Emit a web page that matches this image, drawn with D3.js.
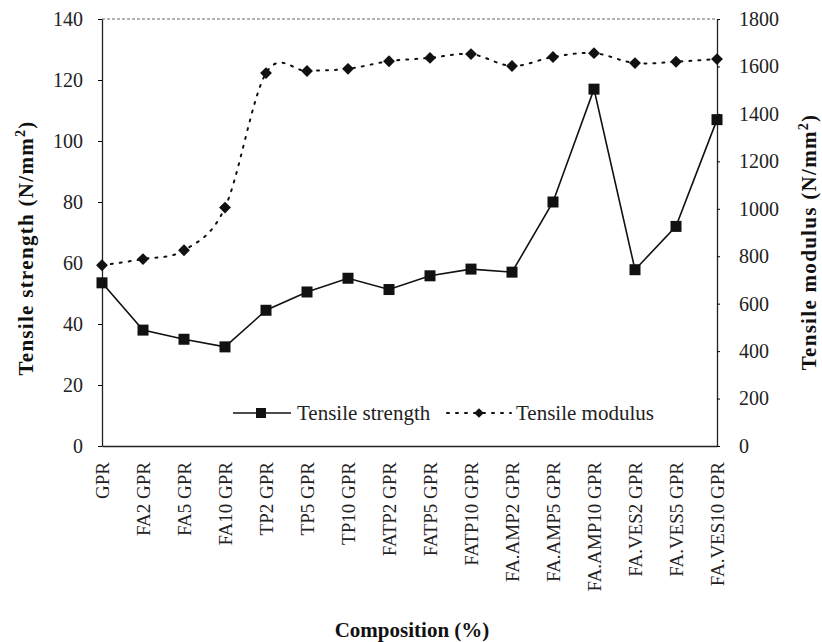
<!DOCTYPE html>
<meta charset="utf-8">
<html>
<head>
<style>
  body { margin:0; background:#fff; }
  svg { display:block; }
  .tick text { font-family: "Liberation Serif", serif; }
</style>
<script src="https://d3js.org/d3.v7.min.js"></script>
</head>
<body>
<svg width="822" height="642"></svg>
<script>
// values
var categories = ["GPR", "FA2 GPR", "FA5 GPR", "FA10 GPR", "TP2 GPR", "TP5 GPR", "TP10 GPR",
  "FATP2 GPR", "FATP5 GPR", "FATP10 GPR", "FA.AMP2 GPR", "FA.AMP5 GPR", "FA.AMP10 GPR",
  "FA.VES2 GPR", "FA.VES5 GPR", "FA.VES10 GPR"];
var strength = [53.5, 38, 35, 32.5, 44.5, 50.5, 55, 51.3, 55.8, 58, 57, 80, 117, 57.8, 72, 107];
var modulus = [762, 788, 825, 1005, 1572, 1581, 1590, 1622, 1636, 1652, 1602, 1640, 1656, 1614, 1620, 1631];
var leftTicks = [0, 20, 40, 60, 80, 100, 120, 140];
var rightTicks = [0, 200, 400, 600, 800, 1000, 1200, 1400, 1600, 1800];

var margin = {top: 19, left: 102, right: 105, bottom: 196};
var width = 822, height = 642;
var serif = "'Liberation Serif', 'Times New Roman', serif";

var svg = d3.select("svg");

var x = d3.scalePoint().domain(categories).range([margin.left, width - margin.right]).padding(0);
var yL = d3.scaleLinear().domain([0, 140]).range([height - margin.bottom, margin.top]);
var yR = d3.scaleLinear().domain([0, 1800]).range([height - margin.bottom, margin.top]);

// faint top border of the plot area
svg.append("line")
  .attr("x1", margin.left).attr("x2", width - margin.right)
  .attr("y1", margin.top).attr("y2", margin.top)
  .attr("stroke", "#666").attr("stroke-width", 1).attr("stroke-dasharray", "3,2");

var xAxis = svg.append("g")
  .attr("transform", "translate(0," + (height - margin.bottom) + ")")
  .call(d3.axisBottom(x).tickSize(0));
xAxis.selectAll("text")
  .attr("transform", "rotate(-90)")
  .attr("x", -16).attr("y", 0).attr("dy", "0.35em")
  .style("text-anchor", "end")
  .style("font-size", "19px").attr("fill", "#222");
xAxis.select(".domain").attr("stroke", "#222").attr("stroke-width", 1.3);

var leftAxis = svg.append("g")
  .attr("transform", "translate(" + margin.left + ",0)")
  .call(d3.axisLeft(yL).tickValues(leftTicks).tickSize(4).tickSizeOuter(0).tickPadding(15));
leftAxis.selectAll("text").style("font-size", "20px").attr("fill", "#222");
leftAxis.select(".domain").attr("stroke", "#222").attr("stroke-width", 1.3);

var rightAxis = svg.append("g")
  .attr("transform", "translate(" + (width - margin.right) + ",0)")
  .call(d3.axisRight(yR).tickValues(rightTicks).tickFormat(d3.format("d"))
    .tickSize(3).tickSizeOuter(0).tickPadding(19));
rightAxis.selectAll("text").style("font-size", "20px").attr("fill", "#222");
rightAxis.select(".domain").attr("stroke", "#222").attr("stroke-width", 1.3);

// tensile modulus: smoothed dotted line with diamonds
var modLine = d3.line()
  .x(function(d, i) { return x(categories[i]); })
  .y(function(d) { return yR(d); })
  .curve(d3.curveCardinal.tension(0));
svg.append("path")
  .datum(modulus)
  .attr("d", modLine)
  .attr("fill", "none").attr("stroke", "#111")
  .attr("stroke-width", 2).attr("stroke-dasharray", "2,7").attr("stroke-linecap", "round");

var diamond = d3.symbol().type(d3.symbolDiamond2).size(90);
svg.selectAll(".dia").data(modulus).enter().append("path")
  .attr("class", "dia")
  .attr("transform", function(d, i) { return "translate(" + x(categories[i]) + "," + yR(d) + ")"; })
  .attr("d", diamond).attr("fill", "#111");

// tensile strength: solid line with squares
var strLine = d3.line()
  .x(function(d, i) { return x(categories[i]); })
  .y(function(d) { return yL(d); });
svg.append("path")
  .datum(strength)
  .attr("d", strLine)
  .attr("fill", "none").attr("stroke", "#111").attr("stroke-width", 1.6);

svg.selectAll(".sq").data(strength).enter().append("rect")
  .attr("class", "sq")
  .attr("x", function(d, i) { return x(categories[i]) - 5.5; })
  .attr("y", function(d) { return yL(d) - 5.5; })
  .attr("width", 11).attr("height", 11).attr("fill", "#111");

// legend
var lg = svg.append("g").attr("transform", "translate(233,413)");
lg.append("line").attr("x1", 0).attr("x2", 58).attr("y1", 0).attr("y2", 0)
  .attr("stroke", "#111").attr("stroke-width", 1.6);
lg.append("rect").attr("x", 23).attr("y", -5).attr("width", 10).attr("height", 10).attr("fill", "#111");
lg.append("text").attr("x", 64).attr("y", 7).text("Tensile strength")
  .style("font-family", serif).style("font-size", "21px").attr("fill", "#222");
lg.append("line").attr("x1", 214).attr("x2", 278).attr("y1", 0).attr("y2", 0)
  .attr("stroke", "#111").attr("stroke-width", 2).attr("stroke-dasharray", "2,7").attr("stroke-linecap", "round");
lg.append("path").attr("transform", "translate(246,0)").attr("d", d3.symbol().type(d3.symbolDiamond2).size(60)).attr("fill", "#111");
lg.append("text").attr("x", 283).attr("y", 7).text("Tensile modulus")
  .style("font-family", serif).style("font-size", "21px").attr("fill", "#222");

// axis titles
var leftTitle = svg.append("text")
  .attr("transform", "translate(33,248) rotate(-90)")
  .style("text-anchor", "middle").style("font-family", serif).style("letter-spacing", "1.3px")
  .style("font-size", "21px").style("font-weight", "bold").attr("fill", "#111");
leftTitle.append("tspan").text("Tensile strength (N/mm");
leftTitle.append("tspan").attr("dy", -8).style("font-size", "14px").text("2");
leftTitle.append("tspan").attr("dy", 8).text(")");

var rightTitle = svg.append("text")
  .attr("transform", "translate(816,242) rotate(-90)")
  .style("text-anchor", "middle").style("font-family", serif).style("letter-spacing", "1.3px")
  .style("font-size", "21px").style("font-weight", "bold").attr("fill", "#111");
rightTitle.append("tspan").text("Tensile modulus (N/mm");
rightTitle.append("tspan").attr("dy", -8).style("font-size", "14px").text("2");
rightTitle.append("tspan").attr("dy", 8).text(")");

svg.append("text")
  .attr("x", 412).attr("y", 637)
  .style("text-anchor", "middle").style("font-family", serif)
  .style("font-size", "21px").style("font-weight", "bold").attr("fill", "#111")
  .text("Composition (%)");
</script>
</body>
</html>
